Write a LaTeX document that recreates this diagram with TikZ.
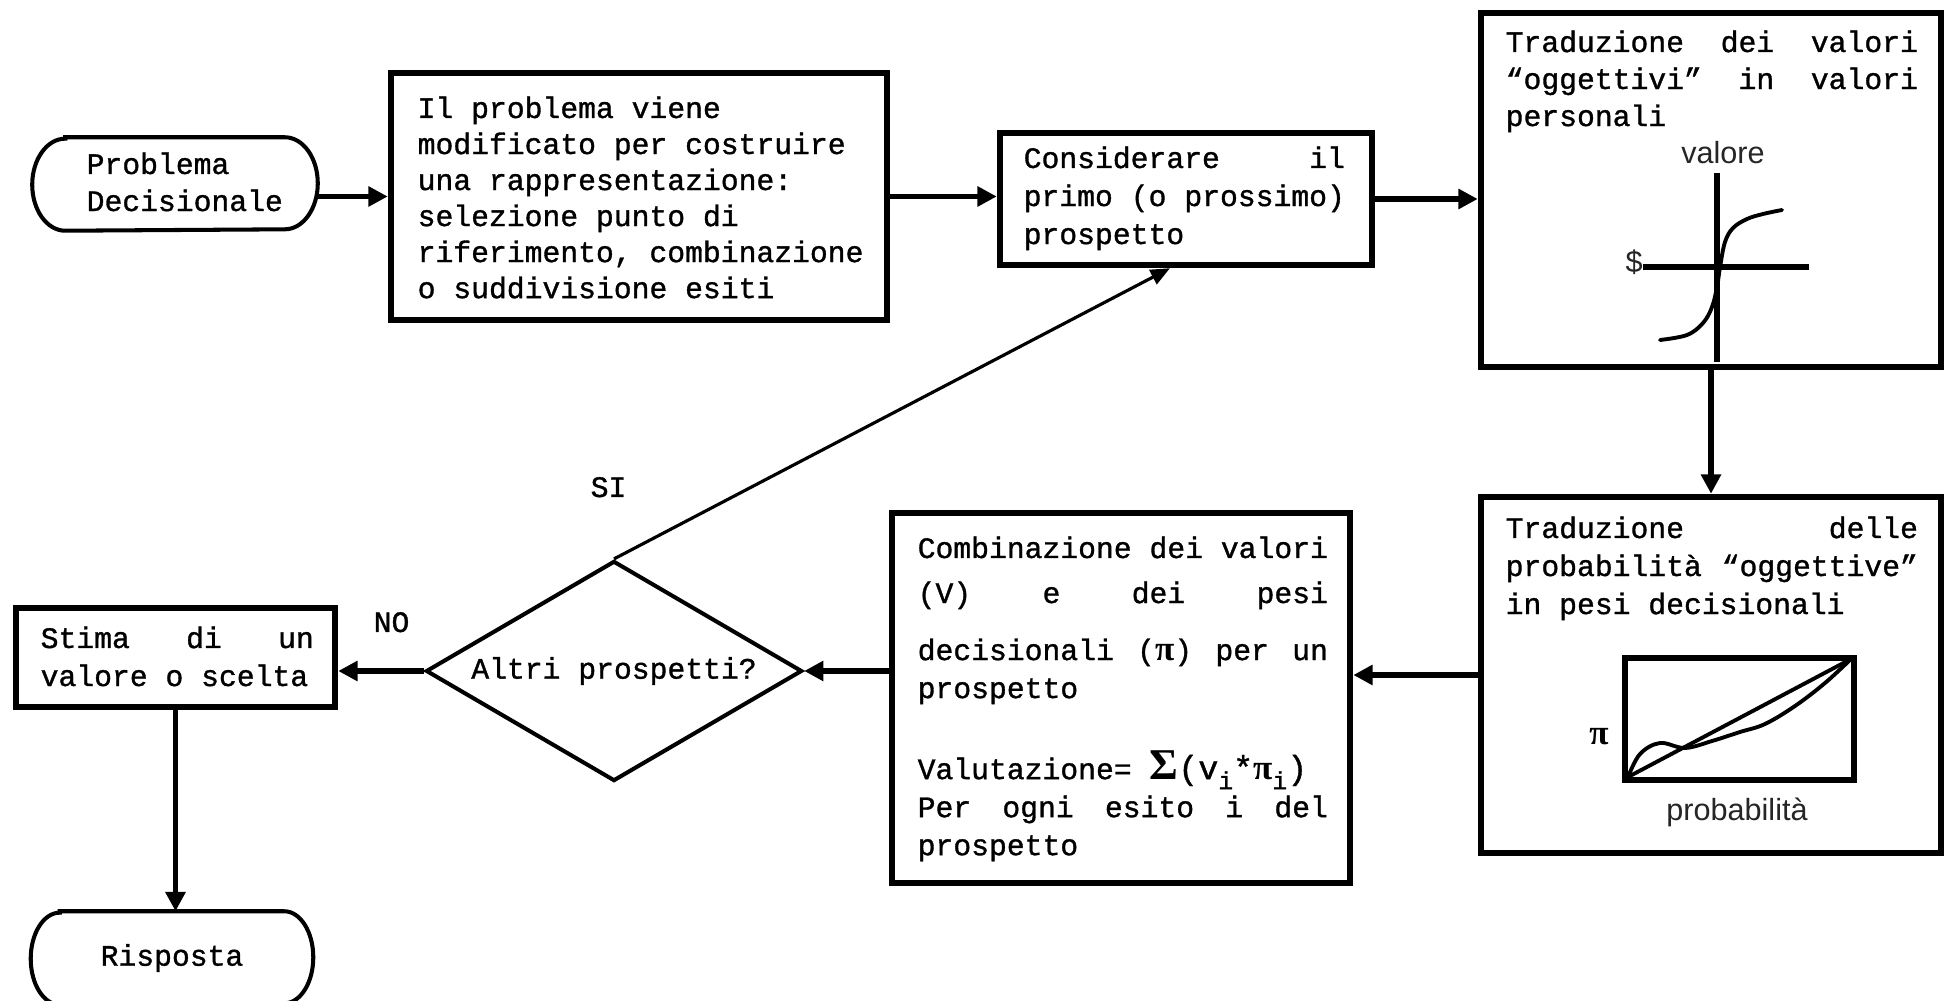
\documentclass[tikz,border=0pt]{standalone}
\usepackage{fontspec}
\newfontfamily\mono{Liberation Mono}[FakeBold=1.1]
\newfontfamily\sansf{Liberation Sans}
\newfontfamily\grk{Liberation Serif}
\usetikzlibrary{arrows.meta,shapes.geometric}

% one text line of natural width, and one spread to a given width
\newcommand\Lft[1]{\hbox{#1}}
\newcommand\Jst[2]{\hbox to #1{#2}}
% symbols of the evaluation formula
\newcommand\pib{{\grk\bfseries\fontsize{10}{10}\selectfont π}}
\newcommand\sigmab{{\grk\bfseries\fontsize{12.5}{12}\selectfont Σ}}
\newcommand\largemono[1]{{\fontsize{9.5}{10}\selectfont #1}}
\newcommand\subi{\raisebox{-0.1cm}{\fontsize{7}{7}\selectfont i}}

\begin{document}
\begin{tikzpicture}[x=0.01cm, y=-0.01cm,
  txt/.style={anchor=base west, inner sep=0pt, font={\mono\fontsize{8.45}{10}\selectfont}},
  sanslbl/.style={inner sep=0pt, text=black!85, font={\sansf\fontsize{8.7}{10}\selectfont}},
  box/.style={draw, line width=1.8pt, inner sep=0pt},
  pill/.style={inner sep=0pt},
  pillline/.style={line width=1.15pt},
  arr/.style={line width=1.7pt, -{Triangle[length=5.5pt,width=5.5pt]}},
  thinarr/.style={line width=0.9pt, -{Triangle[length=5.5pt,width=4.5pt]}},
  axis/.style={line width=1.9pt},
  curve/.style={line width=1.1pt, line join=round, line cap=round}]

\useasboundingbox (0,0) rectangle (1952,1001);
\fill[white] (0,0) rectangle (1952,1001);

% ---------- start terminal ----------
\node[pill, minimum width=2.84cm, minimum height=0.92cm] (pd) at (175,184) {};
\draw[pillline] ([xshift=0.33cm]pd.north west) -- ([xshift=-0.33cm]pd.north east)
  arc[start angle=90, end angle=-90, x radius=0.33cm, y radius=0.46cm]
  -- ([xshift=0.33cm]pd.south west)
  arc[start angle=270, end angle=90, x radius=0.33cm, y radius=0.46cm] -- cycle;
\node[txt] (pdt) at (86,174) {\vtop{\baselineskip=0.37cm\lineskiplimit=-1cm
  \Lft{Problema}\Lft{Decisionale}}};

% ---------- editing phase ----------
\node[box, minimum width=4.96cm, minimum height=2.47cm] (b2) at (639,196.5) {};
\node[txt] (t2) at (417,118) {\vtop{\baselineskip=0.36cm\lineskiplimit=-1cm
  \Lft{Il problema viene}
  \Lft{modificato per costruire}
  \Lft{una rappresentazione:}
  \Lft{selezione punto di}
  \Lft{riferimento, combinazione}
  \Lft{o suddivisione esiti}}};

% ---------- next prospect ----------
\node[box, minimum width=3.72cm, minimum height=1.32cm] (b3) at (1186,199) {};
\node[txt] (t3) at (1023,168) {\vtop{\baselineskip=0.38cm\lineskiplimit=-1cm
  \Jst{3.21cm}{Considerare\hfill il}
  \Jst{3.21cm}{primo\hfill (o\hfill prossimo)}
  \Lft{prospetto}}};

% ---------- value function ----------
\node[box, minimum width=4.60cm, minimum height=3.54cm] (b4) at (1711,190) {};
\node[txt] (t4) at (1505,52) {\vtop{\baselineskip=0.37cm\lineskiplimit=-1cm
  \Jst{4.12cm}{Traduzione\hfill dei\hfill valori}
  \Jst{4.12cm}{“oggettivi”\hfill in\hfill valori}
  \Lft{personali}}};
\draw[axis] (1717,173) -- (1717,362);
\draw[axis] (1643,267) -- (1809,267);
\draw[curve] plot[smooth, tension=0.6] coordinates {(1660,340) (1687,335) (1703,323)
  (1712,307) (1717,287) (1720,267) (1725,242) (1733,228) (1747,219) (1763,214) (1782,210)};
\node[sanslbl] (val) at (1723,153) {valore};
\node[sanslbl] (dol) at (1634,262) {\$};

% ---------- decision weights ----------
\node[box, minimum width=4.60cm, minimum height=3.56cm] (b5) at (1711,675) {};
\node[txt] (t5) at (1505,538) {\vtop{\baselineskip=0.38cm\lineskiplimit=-1cm
  \Jst{4.12cm}{Traduzione\hfill delle}
  \Jst{4.12cm}{probabilità\hfill “oggettive”}
  \Lft{in pesi decisionali}}};
\draw[axis] (1625,658) rectangle (1854,780);
\draw[curve] (1628,777) -- (1851,659);
\draw[curve] plot[smooth, tension=0.6] coordinates {(1628,777) (1640,754) (1660,743)
  (1685,748) (1712,741) (1740,732) (1765,724) (1795,706) (1825,683) (1851,659)};
\node[inner sep=0pt] (piw) at (1599,737) {\pib};
\node[sanslbl] (prob) at (1737,812) {probabilità};

% ---------- combination ----------
\node[box, minimum width=4.58cm, minimum height=3.70cm] (b6) at (1121,698) {};
\node[txt] (t6) at (917,558) {\vtop{\baselineskip=0.38cm\lineskiplimit=-1cm
  \Jst{4.10cm}{Combinazione\hfill dei\hfill valori}
  \vskip0.07cm
  \Jst{4.10cm}{(V)\hfill e\hfill dei\hfill pesi}
  \vskip0.19cm
  \Jst{4.10cm}{decisionali\hfill (\pib)\hfill per\hfill un}
  \Lft{prospetto}
  \vskip0.43cm
  \Lft{Valutazione= \sigmab\largemono{(v}\subi\largemono{*}\pib\subi\largemono{)}}
  \Jst{4.10cm}{Per\hfill ogni\hfill esito\hfill i\hfill del}
  \Lft{prospetto}}};

% ---------- decision ----------
\node[diamond, draw, line width=1.15pt, aspect=1.71, inner sep=0pt,
  minimum width=3.76cm, minimum height=2.2cm,
  font={\mono\fontsize{8.45}{10}\selectfont}] (dia) at (614,671) {Altri prospetti?};
\node[txt] (si) at (590,497) {SI};
\node[txt] (no) at (373,632) {NO};

% ---------- outcome ----------
\node[box, minimum width=3.19cm, minimum height=0.99cm] (b7) at (175.5,657.5) {};
\node[txt] (t7) at (40,648) {\vtop{\baselineskip=0.38cm\lineskiplimit=-1cm
  \Jst{2.73cm}{Stima\hfill di\hfill un}
  \Lft{valore o scelta}}};

\node[pill, minimum width=2.81cm, minimum height=0.92cm,
  font={\mono\fontsize{8.45}{10}\selectfont}] (resp) at (172,958) {Risposta};
\draw[pillline] ([xshift=0.29cm]resp.north west) -- ([xshift=-0.29cm]resp.north east)
  arc[start angle=90, end angle=-90, x radius=0.29cm, y radius=0.46cm]
  -- ([xshift=0.29cm]resp.south west)
  arc[start angle=270, end angle=90, x radius=0.29cm, y radius=0.46cm] -- cycle;

% ---------- connectors ----------
\draw[arr] (pd.east |- b2.west) -- (b2.west);
\draw[arr] (b2.east) -- (b2.east -| b3.west);
\draw[arr] (b3.east) -- (b3.east -| b4.west);
\draw[arr] (b4.south) -- (b5.north);
\draw[arr] (b5.west) -- (b5.west -| b6.east);
\draw[arr] (dia.east -| b6.west) -- (dia.east);
\draw[arr] (dia.west) -- (dia.west -| b7.east);
\draw[arr] (b7.south) -- (b7.south |- resp.north);
\draw[thinarr] (dia.north) -- ([xshift=-0.16cm]b3.south);

\end{tikzpicture}
\end{document}
